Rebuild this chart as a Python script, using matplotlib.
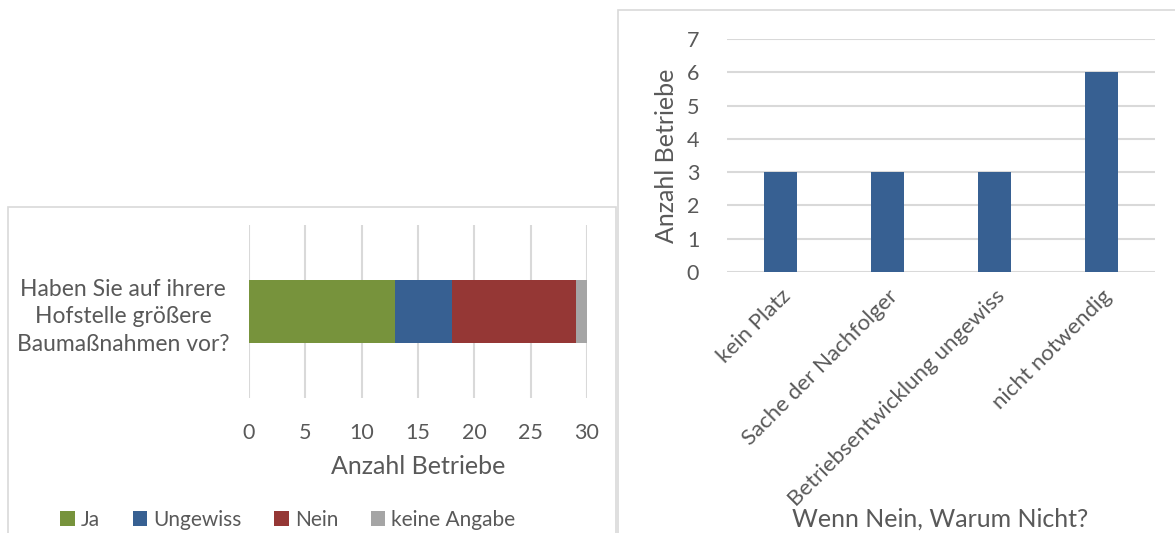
import matplotlib.pyplot as plt
from matplotlib.patches import Rectangle

plt.rcParams['font.family'] = ['Lato', 'DejaVu Sans']
plt.rcParams['text.color'] = '#595959'
plt.rcParams['axes.labelcolor'] = '#595959'
plt.rcParams['xtick.color'] = '#595959'
plt.rcParams['ytick.color'] = '#595959'

# Baumassnahmen auf der Hofstelle
frage = 'Haben Sie auf ihrere\nHofstelle größere\nBaumaßnahmen vor?'
antworten = ['Ja', 'Ungewiss', 'Nein', 'keine Angabe']
anzahl = [13, 5, 11, 1]
farben = ['#77933C', '#376092', '#953735', '#A5A5A5']

# Gruende bei "Nein"
gruende = ['kein Platz', 'Sache der Nachfolger', 'Betriebsentwicklung ungewiss', 'nicht notwendig']
gruende_anzahl = [3, 3, 3, 6]

W, H = 1175, 533
fig = plt.figure(figsize=(W / 100, H / 100), dpi=100)

def box(x0, y0, x1, y1):
    return [x0 / W, 1 - y1 / H, (x1 - x0) / W, (y1 - y0) / H]

# Rahmen der beiden Diagramme
for x0, y0, x1, y1 in [(8, 207, 616, 540), (618, 10, 1180, 540)]:
    fig.patches.append(Rectangle((x0 / W, 1 - y1 / H), (x1 - x0) / W, (y1 - y0) / H,
                                 transform=fig.transFigure, fill=False,
                                 edgecolor='#d9d9d9', lw=1.2))

grid = '#d9d9d9'

# linkes Diagramm: gestapelter Balken
ax1 = fig.add_axes(box(249, 225, 587, 398))
links = 0
for a, n, c in zip(antworten, anzahl, farben):
    ax1.barh([0], [n], left=links, height=0.36, color=c, label=a, zorder=3)
    links += n
ax1.set_xlim(0, 30)
ax1.set_ylim(-0.5, 0.5)
ax1.set_xticks(range(0, 31, 5))
ax1.set_yticks([0])
ax1.set_yticklabels([frage], multialignment='center', fontsize=16.5, linespacing=1.4)
ax1.xaxis.grid(True, color=grid, lw=1.5, zorder=0)
ax1.tick_params(axis='x', length=0, pad=18, labelsize=15.5)
ax1.tick_params(axis='y', length=0, pad=14)
for s in ax1.spines.values():
    s.set_visible(False)
ax1.set_xlabel('Anzahl Betriebe', fontsize=18, labelpad=9)
fig.legend(loc='center', bbox_to_anchor=(288 / W, 1 - 520 / H), ncol=4, frameon=False,
           fontsize=15, handlelength=0.7, handleheight=0.7, handletextpad=0.3,
           columnspacing=1.55)

# rechtes Diagramm: Saeulen
ax2 = fig.add_axes(box(727, 39, 1155, 272))
ax2.bar(range(len(gruende)), gruende_anzahl, width=0.31, color='#376092', zorder=3)
ax2.set_xlim(-0.5, len(gruende) - 0.5)
ax2.set_ylim(0, 7)
ax2.set_yticks(range(0, 8))
ax2.yaxis.grid(True, color=grid, lw=1.5, zorder=0)
ax2.set_xticks(range(len(gruende)))
ax2.set_xticklabels(gruende, rotation=45, ha='right', rotation_mode='anchor', fontsize=16)
ax2.tick_params(axis='x', length=0, pad=10)
ax2.tick_params(axis='y', length=0, pad=20, labelsize=15.5)
for s in ax2.spines.values():
    s.set_visible(False)
ax2.set_ylabel('Anzahl Betriebe', fontsize=18, labelpad=6)
fig.text(940 / W, 1 - 519 / H, 'Wenn Nein, Warum Nicht?', ha='center', va='center', fontsize=18)

fig.savefig('out.png', dpi=100)
